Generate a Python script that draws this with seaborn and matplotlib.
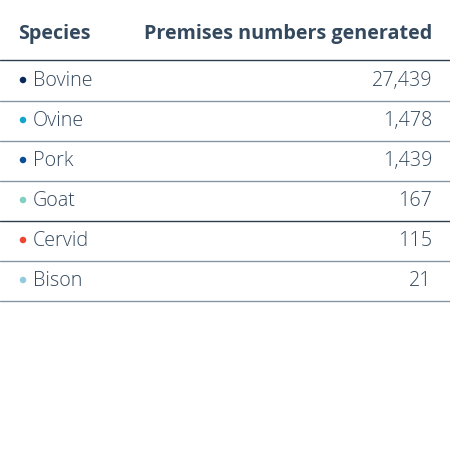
import matplotlib
matplotlib.use("Agg")
import matplotlib.pyplot as plt
import seaborn as sns
import pandas as pd

species = ["Bovine", "Ovine", "Pork", "Goat", "Cervid", "Bison"]
counts = [27439, 1478, 1439, 167, 115, 21]
colors = ["#0b2a5b", "#14a5cc", "#0a4f96", "#7fcfc3", "#ee4431", "#92cbe0"]
headers = ["Species", "Premises numbers generated"]

sns.set_theme(style="white")
plt.rcParams["font.family"] = ["Open Sans", "DejaVu Sans"]

fig = plt.figure(figsize=(4.5, 4.68), dpi=100)
ax = fig.add_axes([0, 0, 1, 1])
ax.set_xlim(0, 450)
ax.set_ylim(468, 0)
ax.axis("off")

txt = "#34495e"
fs = 14.2
ax.text(18, 34, headers[0], fontsize=fs, fontweight="bold", color=txt, va="center")
ax.text(432, 34, headers[1], fontsize=fs, fontweight="bold", color=txt, va="center", ha="right")
ax.plot([0, 450], [59.5, 59.5], color="#2c3e50", lw=1)

rows = pd.DataFrame({"species": species, "count": counts,
                     "y": [80 + 40 * i for i in range(len(species))],
                     "x": [23] * len(species)})
sns.scatterplot(data=rows, x="x", y="y", hue="species", palette=colors,
                s=22, legend=False, ax=ax, edgecolor="none")
for i, r in rows.iterrows():
    ax.text(33, r.y + 1, r.species, fontsize=fs, fontweight="light", color=txt, va="center")
    ax.text(432, r.y + 1, f"{r['count']:,}", fontsize=fs, fontweight="light", color=txt, va="center", ha="right")
    lc = "#2c3e50" if i == 3 else "#8796a5"
    ax.plot([0, 450], [r.y + 20.5, r.y + 20.5], color=lc, lw=1)

fig.savefig("out.png", dpi=100)
